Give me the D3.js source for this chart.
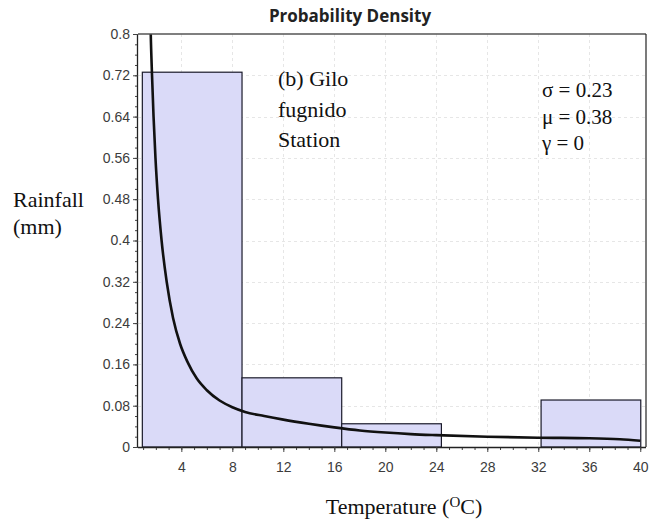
<!DOCTYPE html>
<html>
<head>
<meta charset="utf-8">
<script src="https://cdn.jsdelivr.net/npm/d3@7"></script>
<style>
  html, body { margin: 0; padding: 0; background: #fff; }
  svg { display: block; }
</style>
</head>
<body>
<div id="chart"></div>
<script>
// ---- Data ----
const binEdges = [0.94, 8.76, 16.58, 24.40, 32.22, 40.04];
const binDensity = [0.726, 0.134, 0.045, 0, 0.091];

const curveTemp = [1.52, 1.60, 1.70, 1.82, 1.97, 2.17, 2.45, 2.85, 3.35, 3.9, 4.5, 5.2, 6.0, 7.0, 8.0, 9.0, 10.5, 12.0, 14.0, 16.0, 18.0, 20.0, 22.0, 24.0, 28.0, 32.0, 36.0, 38.4, 40.0];
const curveDensity = [0.90, 0.80, 0.72, 0.64, 0.56, 0.48, 0.40, 0.32, 0.25, 0.20, 0.164, 0.133, 0.110, 0.090, 0.077, 0.068, 0.060, 0.053, 0.045, 0.038, 0.032, 0.028, 0.025, 0.023, 0.020, 0.018, 0.017, 0.015, 0.012];

const xTicks = [4, 8, 12, 16, 20, 24, 28, 32, 36, 40];
const yTicks = [0, 0.08, 0.16, 0.24, 0.32, 0.4, 0.48, 0.56, 0.64, 0.72, 0.8];
const yTickLabels = ["0", "0.08", "0.16", "0.24", "0.32", "0.4", "0.48", "0.56", "0.64", "0.72", "0.8"];

const titleText = "Probability Density";
const yTitleLines = ["Rainfall", "(mm)"];
const stationLines = ["(b) Gilo", "fugnido", "Station"];
const paramLines = ["σ = 0.23", "μ = 0.38", "γ = 0"];

(function () {
// ---- Layout ----
const W = 665, H = 526;
const pL = 138, pR = 646, pT = 34, pB = 447;

const svg = d3.select("#chart").append("svg")
  .attr("width", W).attr("height", H)
  .style("font-family", "'Liberation Sans', Arial, sans-serif");

const x = d3.scaleLinear().domain([0.6, 40.45]).range([pL, pR]);
const y = d3.scaleLinear().domain([0, 0.8]).range([pB, pT]);

svg.append("defs").append("clipPath").attr("id", "plotclip")
  .append("rect").attr("x", pL).attr("y", pT)
  .attr("width", pR - pL).attr("height", pB - pT);

// Grid lines
const grid = svg.append("g").attr("stroke", "#e6e6e6").attr("stroke-width", 1)
  .attr("stroke-dasharray", "3,3");
grid.selectAll("line.h").data(yTicks.slice(1, -1)).join("line")
  .attr("x1", pL).attr("x2", pR)
  .attr("y1", d => Math.round(y(d)) + 0.5).attr("y2", d => Math.round(y(d)) + 0.5);
grid.selectAll("line.v").data(xTicks.slice(0, -1)).join("line")
  .attr("y1", pT).attr("y2", pB)
  .attr("x1", d => Math.round(x(d)) + 0.5).attr("x2", d => Math.round(x(d)) + 0.5);

// Histogram bars
const bins = binDensity.map((v, i) => ({ x0: binEdges[i], x1: binEdges[i + 1], v }));
svg.append("g").selectAll("rect").data(bins.filter(b => b.v > 0)).join("rect")
  .attr("x", d => x(d.x0))
  .attr("y", d => y(d.v))
  .attr("width", d => x(d.x1) - x(d.x0))
  .attr("height", d => y(0) - y(d.v))
  .attr("fill", "#dadaf8")
  .attr("stroke", "#1a1a2a")
  .attr("stroke-width", 1.2);

// Density curve
const pts = curveTemp.map((t, i) => [t, curveDensity[i]]);
svg.append("path")
  .datum(pts)
  .attr("clip-path", "url(#plotclip)")
  .attr("fill", "none")
  .attr("stroke", "#111")
  .attr("stroke-width", 2.6)
  .attr("stroke-linejoin", "round")
  .attr("d", d3.line().x(d => x(d[0])).y(d => y(d[1])).curve(d3.curveMonotoneX));

// Frame (top and right)
svg.append("line").attr("x1", pL).attr("x2", pR).attr("y1", pT).attr("y2", pT)
  .attr("stroke", "#555").attr("stroke-width", 1.5);
svg.append("line").attr("x1", pR).attr("x2", pR).attr("y1", pT).attr("y2", pB)
  .attr("stroke", "#222").attr("stroke-width", 1.2);

// Axes
const xMinor = d3.range(1, 41, 1);
const yMinor = d3.range(0, 0.81, 0.02);

svg.append("g").attr("transform", `translate(0,${pB})`)
  .call(d3.axisBottom(x).tickValues(xMinor).tickSize(3).tickFormat(""))
  .call(g => g.select(".domain").remove());
const xMajor = svg.append("g").attr("transform", `translate(0,${pB})`)
  .call(d3.axisBottom(x).tickValues(xTicks).tickSize(5).tickPadding(10).tickFormat(d3.format("d")));
xMajor.select(".domain").attr("d", `M${pL},0.5H${pR}`).attr("stroke", "#222").attr("stroke-width", 1.3);

svg.append("g").attr("transform", `translate(${pL},0)`)
  .call(d3.axisLeft(y).tickValues(yMinor).tickSize(3).tickFormat(""))
  .call(g => g.select(".domain").remove());
const yMajor = svg.append("g").attr("transform", `translate(${pL},0)`)
  .call(d3.axisLeft(y).tickValues(yTicks).tickSize(5).tickPadding(3)
    .tickFormat((d, i) => yTickLabels[i]));
yMajor.select(".domain").attr("d", `M-0.5,${pT}V${pB}`).attr("stroke", "#222").attr("stroke-width", 1.3);

svg.selectAll(".tick line").attr("stroke", "#444");
svg.selectAll(".tick text").attr("fill", "#3c3c3c")
  .style("font-family", "'Liberation Sans', Arial, sans-serif")
  .style("font-size", "14px");

// Title
svg.append("text").attr("x", 350).attr("y", 22).attr("text-anchor", "middle")
  .style("font-family", "'Open Sans', sans-serif").style("font-weight", "bold")
  .style("font-size", "17px").attr("fill", "#222").text(titleText);

const serif = "'Liberation Serif', 'Times New Roman', serif";

// Y title
svg.append("g").selectAll("text").data(yTitleLines).join("text")
  .attr("x", 13).attr("y", (d, i) => 207 + i * 27)
  .style("font-family", serif).style("font-size", "22px").attr("fill", "#111")
  .text(d => d);

// X title with superscript
const xt = svg.append("text").attr("x", 404).attr("y", 514).attr("text-anchor", "middle")
  .style("font-family", serif).style("font-size", "22px").attr("fill", "#111");
xt.append("tspan").text("Temperature (");
xt.append("tspan").attr("dy", -7).style("font-size", "15px").text("O");
xt.append("tspan").attr("dy", 7).text("C)");

// Station annotation
svg.append("g").selectAll("text").data(stationLines).join("text")
  .attr("x", 278).attr("y", (d, i) => 86 + i * 30.5)
  .style("font-family", serif).style("font-size", "22px").attr("fill", "#111")
  .text(d => d);

// Parameter annotation
svg.append("g").selectAll("text").data(paramLines).join("text")
  .attr("x", 542).attr("y", (d, i) => 97 + i * 26.5)
  .style("font-family", serif).style("font-size", "21px").attr("fill", "#111")
  .text(d => d);
})();
</script>
</body>
</html>
